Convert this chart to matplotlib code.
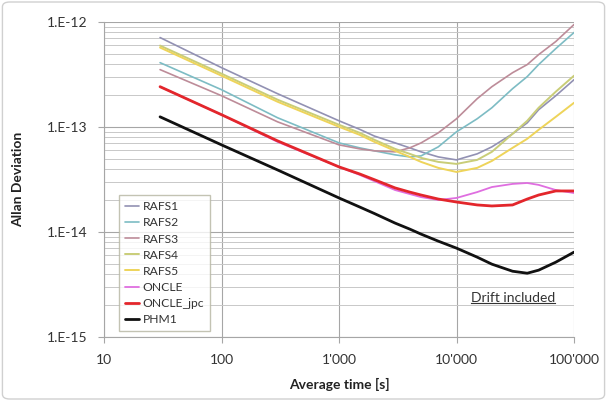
import matplotlib
matplotlib.use("Agg")
import matplotlib.pyplot as plt
from matplotlib.patches import FancyBboxPatch
from matplotlib.lines import Line2D
from matplotlib.ticker import FixedLocator, NullFormatter, LogLocator

tau = [30, 100, 300, 1000, 1500, 2000, 3000, 4000, 5000, 7000, 10000, 15000, 20000, 30000, 40000, 50000, 70000, 100000]
# Allan deviation values in units of 1e-14
rafs1 = [71.1, 36.75, 20.75, 11.46, 9.5, 8.2, 7.06, 6.33, 5.80, 5.19, 4.86, 5.55, 6.47, 8.61, 10.96, 14.6, 19.86, 28.2]
rafs2 = [41.0, 22.66, 12.25, 7.06, 6.33, 5.93, 5.43, 5.19, 5.31, 6.47, 9.0, 11.98, 15.25, 23.17, 30.2, 39.3, 55.8, 79.4]
rafs3 = [35.2, 19.86, 11.2, 6.76, 6.19, 5.93, 5.80, 6.33, 7.06, 8.8, 11.98, 18.6, 24.2, 32.9, 39.3, 48.9, 65.2, 94.6]
rafs4 = [59.6, 32.2, 18.2, 10.5, 8.80, 7.55, 6.19, 5.55, 5.08, 4.65, 4.45, 4.86, 5.80, 8.61, 11.46, 15.25, 21.7, 30.8]
rafs5 = [57.1, 30.8, 17.4, 10.05, 8.42, 7.22, 5.93, 5.19, 4.65, 4.08, 3.73, 4.08, 4.75, 6.33, 7.72, 9.4, 12.5, 17.0]
oncle = [24.2, 13.1, 7.22, 4.17, 3.50, 3.05, 2.51, 2.30, 2.15, 2.02, 2.11, 2.40, 2.68, 2.87, 2.93, 2.81, 2.51, 2.35]
oncle_jpc = [24.2, 13.1, 7.38, 4.17, 3.57, 3.15, 2.63, 2.40, 2.25, 2.06, 1.93, 1.81, 1.77, 1.81, 2.06, 2.25, 2.46, 2.46]
phm1 = [12.5, 6.76, 3.90, 2.11, 1.73, 1.50, 1.216, 1.066, 0.954, 0.818, 0.702, 0.576, 0.494, 0.423, 0.405, 0.433, 0.516, 0.643]

series_names = ["RAFS1", "RAFS2", "RAFS3", "RAFS4", "RAFS5", "ONCLE", "ONCLE_jpc", "PHM1"]
series_vals = [rafs1, rafs2, rafs3, rafs4, rafs5, oncle, oncle_jpc, phm1]
colors = ["#9291b3", "#7dbcc4", "#bd8c99", "#c9cd78", "#eed45a", "#df6ee0", "#e3262b", "#111111"]
widths = [1.2, 1.2, 1.2, 1.4, 1.4, 1.3, 2.0, 2.0]

x_ticks = [10, 100, 1000, 10000, 100000]
x_labels = ["10", "100", "1'000", "10'000", "100'000"]
y_ticks = [1e-15, 1e-14, 1e-13, 1e-12]
y_labels = ["1.E-15", "1.E-14", "1.E-13", "1.E-12"]

plt.rcParams['font.family'] = ['Lato', 'DejaVu Sans']

fig = plt.figure(figsize=(6.07, 4.01), dpi=100)
ax = fig.add_axes([104/607, 1-337/401, (574-104)/607, (337-22)/401])

for name, vals, c, w in zip(series_names, series_vals, colors, widths):
    ax.plot(tau, [v * 1e-14 for v in vals], color=c, lw=w, label=name,
            solid_capstyle='round', solid_joinstyle='round')

ax.set_xscale('log')
ax.set_yscale('log')
ax.set_xlim(10, 100000)
ax.set_ylim(1e-15, 1e-12)
ax.xaxis.set_major_locator(FixedLocator(x_ticks))
ax.set_xticklabels(x_labels)
ax.xaxis.set_minor_locator(FixedLocator([]))
ax.yaxis.set_major_locator(FixedLocator(y_ticks))
ax.set_yticklabels(y_labels)
ax.yaxis.set_minor_locator(LogLocator(base=10, subs=range(2, 10)))
ax.yaxis.set_minor_formatter(NullFormatter())

ax.grid(True, which='major', axis='both', color='#a6a6a6', lw=0.8)
ax.grid(True, which='minor', axis='y', color='#c8c8c8', lw=0.7)
ax.set_axisbelow(True)

for s in ['top', 'right']:
    ax.spines[s].set_visible(False)
for s in ['left', 'bottom']:
    ax.spines[s].set_color('#a6a6a6')
    ax.spines[s].set_linewidth(0.8)
ax.tick_params(axis='both', which='major', length=4, color='#a6a6a6', labelsize=10, labelcolor='#333333', pad=8)
ax.tick_params(axis='y', which='minor', length=0)

ax.set_xlabel("Average time [s]", fontsize=10, fontweight='bold', color='#222222', labelpad=9)
ax.set_ylabel("Allan Deviation", fontsize=10, fontweight='bold', color='#222222', labelpad=16)

leg = ax.legend(loc='lower left', bbox_to_anchor=(0.018, 0.0), fontsize=8.7, frameon=True,
                fancybox=False, edgecolor='#b5b5a0', handlelength=1.2, handletextpad=0.3,
                labelspacing=0.42, borderpad=0.5, labelcolor='#333333')
leg.get_frame().set_linewidth(1.0)

t = ax.text(0.870, 0.125, "Drift included", transform=ax.transAxes, fontsize=10,
            ha='center', va='center', color='#333333')

fig.patches.append(FancyBboxPatch((0.004, 0.005), 0.992, 0.99, boxstyle="round,pad=0,rounding_size=0.012",
                                  transform=fig.transFigure, fill=False, edgecolor='#d0d0d0', lw=1.0))

fig.canvas.draw()
bb = t.get_window_extent()
inv = fig.transFigure.inverted()
(x0, y0), (x1, y1) = inv.transform([(bb.x0, bb.y0 + 1), (bb.x1, bb.y0 + 1)])
fig.lines.append(Line2D([x0, x1], [y0, y1], transform=fig.transFigure, color='#333333', lw=0.8))

fig.savefig("out.png", dpi=100)
